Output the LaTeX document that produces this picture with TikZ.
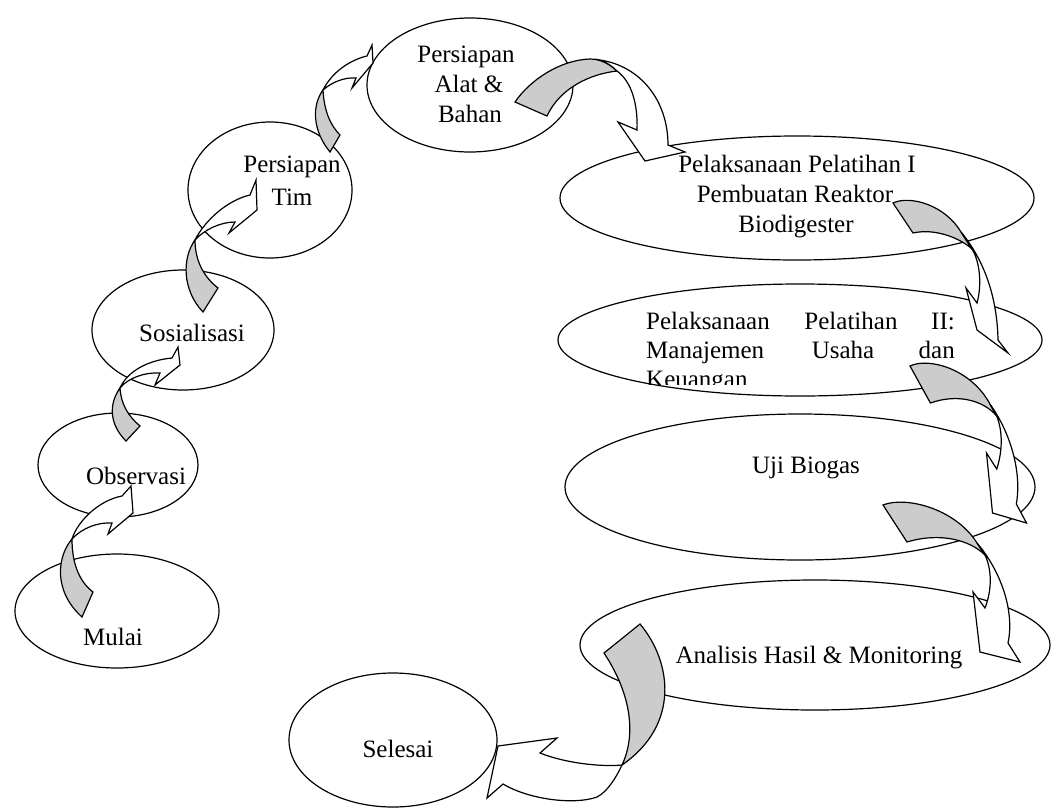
\documentclass[tikz,border=0pt]{standalone}
\usepackage{fontspec}
\setmainfont{Liberation Serif}
\usetikzlibrary{shapes.geometric}
\begin{document}
\begin{tikzpicture}[x=1pt,y=-1pt,
  ell/.style={draw=black,fill=white,line width=1.2pt,ellipse,inner sep=0pt},
  lbl/.style={anchor=base,inner sep=0pt,font=\fontsize{25}{29}\selectfont},
  gpart/.style={draw=black,fill=gray!40,line width=1.2pt,line join=miter},
  wpart/.style={draw=black,fill=white,line width=1.2pt,line join=miter}]
\useasboundingbox (0,0) rectangle (1051,809);
% ellipses
\node[ell,minimum width=204pt,minimum height=114pt] (e1) at (117,611) {};
\node[ell,minimum width=160pt,minimum height=104pt] (e2) at (118,465) {};
\node[ell,minimum width=182pt,minimum height=120pt] (e3) at (183,330) {};
\node[ell,minimum width=164pt,minimum height=136pt] (e4) at (270,190) {};
\node[ell,minimum width=206pt,minimum height=134pt] (e5) at (470,85) {};
\node[ell,minimum width=474pt,minimum height=124pt] (e6) at (797,198) {};
\node[ell,minimum width=484pt,minimum height=112pt] (e7) at (800,340) {};
\node[ell,minimum width=470pt,minimum height=146pt] (e8) at (800,487) {};
\node[ell,minimum width=470pt,minimum height=130pt] (e9) at (815,645) {};
\node[ell,minimum width=208pt,minimum height=134pt] (e10) at (393,740) {};
% labels
\node[lbl] (t1) at (113,645) {Mulai};
\node[lbl] (t2) at (136,484) {Observasi};
\node[lbl] (t3) at (192,341) {Sosialisasi};
\node[lbl] (t4a) at (292,172) {Persiapan};
\node[lbl] (t4b) at (292,205) {Tim};
\node[lbl] (t5a) at (466,62) {Persiapan};
\node[lbl] (t5b) at (469,92) {Alat \&};
\node[lbl] (t5c) at (470,122) {Bahan};
\node[lbl] (t6a) at (797,172) {Pelaksanaan Pelatihan I};
\node[lbl] (t6b) at (795,202) {Pembuatan Reaktor};
\node[lbl] (t6c) at (796,232) {Biodigester};
\node[lbl,anchor=base west] (t7a) at (646,329) {Pelaksanaan};
\node[lbl,anchor=base] (t7b) at (851,329) {Pelatihan};
\node[lbl,anchor=base east] (t7c) at (955,329) {II:};
\node[lbl,anchor=base west] (t7d) at (646,358) {Manajemen};
\node[lbl,anchor=base] (t7e) at (843,358) {Usaha};
\node[lbl,anchor=base east] (t7f) at (955,358) {dan};
\begin{scope}
\clip (600,300) rectangle (1000,384);
\node[lbl,anchor=base west] (t7g) at (646,387) {Keuangan};
\end{scope}
\node[lbl] (t8) at (806,473) {Uji Biogas};
\node[lbl] (t9) at (819,663) {Analisis Hasil \& Monitoring};
\node[lbl] (t10) at (398,757) {Selesai};
% arrow 1 : Mulai -> Observasi
\draw[gpart] (72,539) .. controls (58,555) and (52,590) .. (82,617) -- (93,592) .. controls (80,582) and (72,565) .. (72,539) -- cycle;
\draw[wpart] (72,539) .. controls (78,520) and (100,500) .. (122,496) -- (131,486) -- (133,513) -- (108,534) -- (112,523) .. controls (98,522) and (82,528) .. (72,539) -- cycle;
% arrow 2 : Observasi -> Sosialisasi
\draw[gpart] (120,388) .. controls (108,405) and (110,425) .. (126,441) -- (140,426) .. controls (128,416) and (121,404) .. (120,388) -- cycle;
\draw[wpart] (120,388) .. controls (128,370) and (150,360) .. (172,358) -- (178,347) -- (180,365) -- (155,385) -- (160,373) .. controls (145,372) and (128,378) .. (120,388) -- cycle;
% arrow 3 : Sosialisasi -> Persiapan Tim
\draw[gpart] (195,240) .. controls (182,258) and (182,290) .. (203,312) -- (218,288) .. controls (205,278) and (195,262) .. (195,240) -- cycle;
\draw[wpart] (195,240) .. controls (205,220) and (228,200) .. (250,195) -- (256,180) -- (257,210) -- (229,233) -- (235,222) .. controls (220,222) and (204,230) .. (195,240) -- cycle;
% arrow 4 : Persiapan Tim -> Persiapan Alat
\draw[gpart] (323,90) .. controls (312,105) and (312,130) .. (330,152) -- (340,135) .. controls (330,125) and (324,110) .. (323,90) -- cycle;
\draw[wpart] (323,90) .. controls (332,72) and (350,60) .. (367,56) -- (372,45) -- (373,63) -- (352,88) -- (356,78) .. controls (345,77) and (332,82) .. (323,90) -- cycle;
% arrow 5 : Alat -> Pelatihan I
\draw[gpart] (515,102) .. controls (530,80) and (560,60) .. (590,59) .. controls (600,59) and (610,64) .. (617,71) .. controls (590,74) and (560,88) .. (547,116) -- cycle;
\draw[wpart] (600,60) .. controls (640,66) and (668,100) .. (668,145) -- (685,152) -- (645,161) -- (618,122) -- (637,130) .. controls (638,105) and (632,82) .. (617,71) .. controls (612,66) and (606,62) .. (600,60) -- cycle;
% arrow 6 : Pelatihan I -> II
\draw[gpart] (893,203) .. controls (910,195) and (945,205) .. (961,232) -- (972,249) .. controls (960,238) and (935,228) .. (913,233) -- cycle;
\draw[wpart] (961,232) .. controls (980,255) and (997,290) .. (998,340) -- (1008,353) -- (977,330) -- (966,288) -- (977,303) .. controls (982,285) and (980,262) .. (972,249) -- cycle;
% arrow 7 : Pelatihan II -> Uji Biogas
\draw[gpart] (910,366) .. controls (928.7,357) and (971.2,369) .. (989.9,404) -- (996.7,416) .. controls (984,401) and (958.5,393) .. (930.4,403) -- cycle;
\draw[wpart] (989.9,404) .. controls (1009.5,431) and (1022.2,471) .. (1016.3,504) -- (1026.5,523) -- (992.5,513) -- (986.5,453) -- (996.7,469) .. controls (1002.7,451) and (1002.7,431) .. (996.7,416) -- cycle;
% arrow 8 : Uji Biogas -> Analisis
\draw[gpart] (883,505) .. controls (905,496) and (955,508) .. (977,543) -- (985,555) .. controls (970,540) and (940,532) .. (907,542) -- cycle;
\draw[wpart] (977,543) .. controls (1000,570) and (1015,610) .. (1008,643) -- (1020,662) -- (980,652) -- (973,592) -- (985,608) .. controls (992,590) and (992,570) .. (985,555) -- cycle;
% arrow 9 : Analisis -> Selesai
\draw[gpart] (604,653) -- (640,624) .. controls (672,662) and (680,725) .. (622,765) .. controls (634,740) and (635,700) .. (604,653) -- cycle;
\draw[wpart] (622,765) .. controls (600,767) and (565,763) .. (540,753) -- (557,738) -- (498,746) -- (487,798) -- (503,784) .. controls (530,800) and (575,805) .. (597,797) .. controls (607,792) and (616,778) .. (622,765) -- cycle;
\end{tikzpicture}
\end{document}
